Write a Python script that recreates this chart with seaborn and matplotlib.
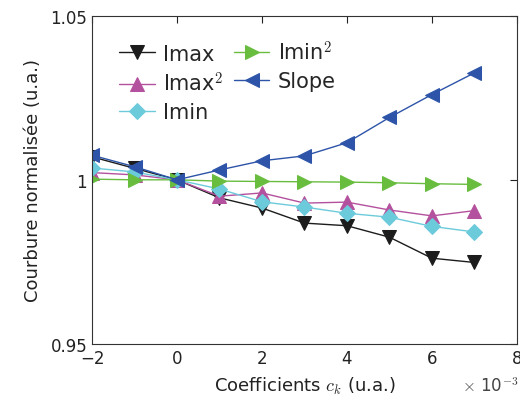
import matplotlib
matplotlib.use("Agg")
import matplotlib.pyplot as plt
import seaborn as sns
import pandas as pd

x_vals = [-2, -1, 0, 1, 2, 3, 4, 5, 6, 7]
imax = [1.0070, 1.0035, 1.0, 0.9945, 0.9914, 0.9868, 0.9860, 0.9825, 0.9761, 0.9748]
imax2 = [1.0022, 1.0015, 1.0, 0.9950, 0.9960, 0.9929, 0.9932, 0.9908, 0.9890, 0.9906]
imin = [1.0036, 1.0024, 1.0, 0.9972, 0.9933, 0.9917, 0.9898, 0.9886, 0.9858, 0.9841]
imin2 = [1.0002, 1.0000, 1.0, 0.9996, 0.9995, 0.9994, 0.9993, 0.9991, 0.9988, 0.9986]
slope = [1.0075, 1.0040, 1.0, 1.0030, 1.0058, 1.0073, 1.0113, 1.0190, 1.0260, 1.0326]

names = ["Imax", "Imax$^2$", "Imin", "Imin$^2$", "Slope"]
series = [imax, imax2, imin, imin2, slope]
colors = ["#1c1c1c", "#b4519e", "#6ccbdb", "#68bd3f", "#2d54a8"]
markers = ["v", "^", "D", ">", "<"]

rows = []
for n, s in zip(names, series):
    for xv, yv in zip(x_vals, s):
        rows.append({"x": xv, "y": yv, "serie": n})
df = pd.DataFrame(rows)

sns.set_style("white")
plt.rcParams["font.family"] = ["DejaVu Sans"]
plt.rcParams["mathtext.fontset"] = "cm"

fig = plt.figure(figsize=(5.2, 4.1), dpi=100)
ax = fig.add_axes([0.177, 0.159, 0.817, 0.8])

for n, c, m in zip(names, colors, markers):
    sub = df[df["serie"] == n]
    ms = 8 if m == "D" else 10
    sns.lineplot(data=sub, x="x", y="y", ax=ax, color=c, marker=m,
                 markersize=ms, markeredgecolor=c, linewidth=1.0, label=n)

ax.set_xlim(-2, 8)
ax.set_ylim(0.95, 1.05)
ax.set_xticks([-2, 0, 2, 4, 6, 8])
ax.set_yticks([0.95, 1.0, 1.05])
ax.set_yticklabels(["0.95", "1", "1.05"])
ax.tick_params(direction="in", top=True, right=True, length=5, labelsize=12,
               colors="#222222", width=0.8)
for sp in ax.spines.values():
    sp.set_color("#333333")
    sp.set_linewidth(0.8)
ax.set_xlabel("Coefficients $c_k$ (u.a.)", fontsize=13, color="#222222", labelpad=6)
ax.set_ylabel("Courbure normalisée (u.a.)", fontsize=13, color="#222222", labelpad=6)
fig.text(0.888, 0.045, r"$\times$ 10$^{-3}$", fontsize=12, color="#444444")

ax.legend(ncol=2, frameon=False, loc="upper left", bbox_to_anchor=(0.02, 0.985),
          fontsize=15, handlelength=1.7, columnspacing=0.5, handletextpad=0.4,
          labelspacing=0.35)

fig.savefig("out.png", dpi=100)
